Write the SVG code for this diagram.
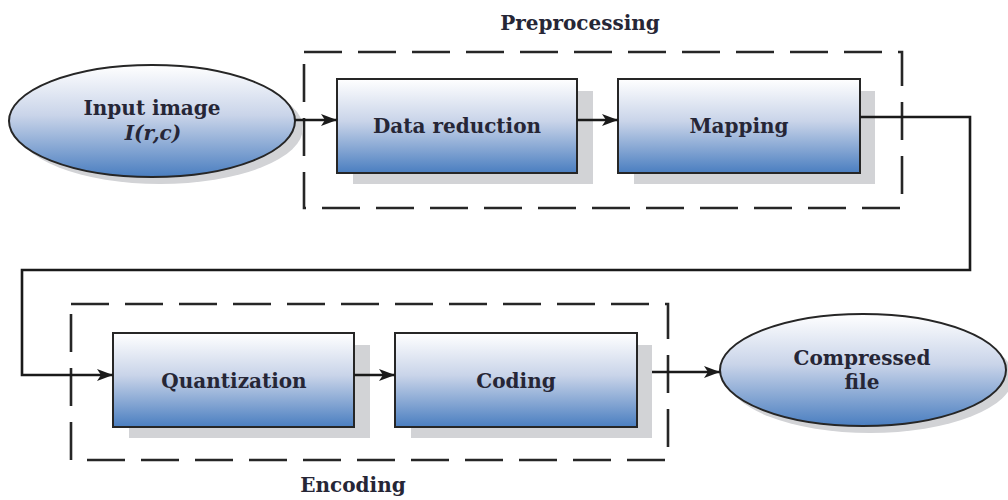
<svg xmlns="http://www.w3.org/2000/svg" width="1008" height="500" viewBox="0 0 1008 500">
<style>
.lbl{font-family:"DejaVu Serif","Liberation Serif",serif;font-weight:bold;font-size:20px;fill:#262636;text-anchor:middle}
.box{stroke:#262626;stroke-width:2;fill:url(#g)}
.shadow{fill:#d2d3d6}
.dash{fill:none;stroke:#262626;stroke-width:2.6;stroke-dasharray:38 16}
.conn{fill:none;stroke:#1a1a1a;stroke-width:2.6}
</style>
<defs>
<linearGradient id="g" x1="0" y1="0" x2="0" y2="1">
<stop offset="0" stop-color="#ffffff"/>
<stop offset="0.45" stop-color="#c9d4e9"/>
<stop offset="1" stop-color="#4a7ec0"/>
</linearGradient>
<marker id="arr" viewBox="0 0 16 12" refX="16" refY="6" markerWidth="16" markerHeight="12" markerUnits="userSpaceOnUse" orient="auto">
<path d="M0,0 L16,6 L0,12 L4,6 Z" fill="#1a1a1a"/>
</marker>
</defs>
<rect width="1008" height="500" fill="#ffffff"/>

<g id="preprocessing">
<rect class="dash" x="304" y="52" width="598" height="156"/>
<text class="lbl" x="580" y="30">Preprocessing</text>
</g>
<g id="encoding">
<rect class="dash" x="71" y="304" width="597" height="156"/>
<text class="lbl" x="353" y="492">Encoding</text>
</g>

<g id="input">
<ellipse class="shadow" cx="160" cy="128" rx="143" ry="56"/>
<ellipse class="box" cx="152" cy="121" rx="143" ry="56"/>
<text class="lbl" x="152" y="115">Input image</text>
<text class="lbl" x="153" y="140" font-style="italic">I(r,c)</text>
</g>

<g id="data-reduction">
<rect class="shadow" x="353" y="91" width="240" height="93"/>
<rect class="box" x="337" y="79" width="240" height="94"/>
<text class="lbl" x="457" y="133">Data reduction</text>
</g>

<g id="mapping">
<rect class="shadow" x="634" y="91" width="241" height="93"/>
<rect class="box" x="618" y="79" width="242" height="94"/>
<text class="lbl" x="739" y="133">Mapping</text>
</g>

<g id="quantization">
<rect class="shadow" x="129" y="345" width="241" height="93"/>
<rect class="box" x="113" y="333" width="241" height="94"/>
<text class="lbl" x="234" y="388">Quantization</text>
</g>

<g id="coding">
<rect class="shadow" x="411" y="345" width="241" height="93"/>
<rect class="box" x="395" y="333" width="242" height="94"/>
<text class="lbl" x="516" y="388">Coding</text>
</g>

<g id="compressed">
<ellipse class="shadow" cx="870" cy="377" rx="143" ry="56"/>
<ellipse class="box" cx="863" cy="370" rx="143" ry="56"/>
<text class="lbl" x="862" y="365">Compressed</text>
<text class="lbl" x="862" y="389">file</text>
</g>

<g id="connectors">
<path class="conn" d="M295,120 L337,120" marker-end="url(#arr)"/>
<path class="conn" d="M577,120 L618,120" marker-end="url(#arr)"/>
<path class="conn" d="M860,117 L970,117 L970,270 L22,270 L22,375 L113,375" marker-end="url(#arr)"/>
<path class="conn" d="M354,375 L395,375" marker-end="url(#arr)"/>
<path class="conn" d="M652,372 L720,372" marker-end="url(#arr)"/>
</g>
</svg>
